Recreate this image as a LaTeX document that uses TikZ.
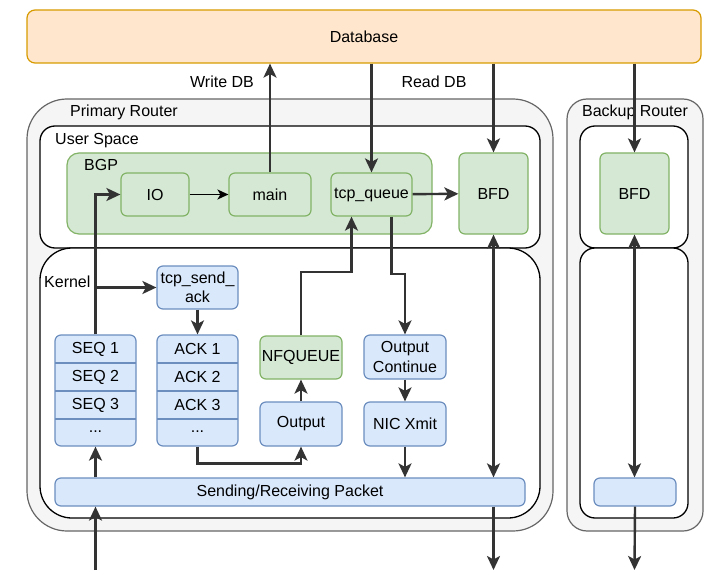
\documentclass[tikz,border=0pt]{standalone}
\usepackage{fontspec}
\setmainfont{Liberation Sans}
\usetikzlibrary{arrows.meta,shapes.geometric}

\definecolor{dbfill}{HTML}{FFE6CC}
\definecolor{dbline}{HTML}{D79B00}
\definecolor{grayfill}{HTML}{F5F5F5}
\definecolor{grayline}{HTML}{666666}
\definecolor{greenfill}{HTML}{D5E8D4}
\definecolor{greenline}{HTML}{82B366}
\definecolor{bluefill}{HTML}{DAE8FC}
\definecolor{blueline}{HTML}{6C8EBF}
\definecolor{arrowc}{HTML}{333333}

\begin{document}
\begin{tikzpicture}[x=1pt,y=-1pt,font=\fontsize{16}{19.5}\selectfont]
\tikzstyle{box} = [rectangle, inner sep=0pt, text centered, align=center]
\tikzstyle{dbbox} = [box, draw=dbline, fill=dbfill, line width=1.2pt, rounded corners=8pt]
\tikzstyle{router} = [box, draw=grayline, fill=grayfill, line width=1.2pt]
\tikzstyle{region} = [box, draw=black, fill=white, line width=1.3pt]
\tikzstyle{groupbox} = [box, draw=greenline, fill=greenfill, line width=1.2pt, rounded corners=12pt]
\tikzstyle{gblock} = [box, draw=greenline, fill=greenfill, line width=1.2pt, rounded corners=6pt]
\tikzstyle{bblock} = [box, draw=blueline, fill=bluefill, line width=1.2pt, rounded corners=6pt]
\tikzstyle{tag} = [inner sep=0pt, anchor=west]
\tikzstyle{line} = [draw=arrowc, line width=2.4pt, -{Stealth[length=14pt,width=13pt,inset=3.5pt]}]
\tikzstyle{dline} = [line, {Stealth[length=14pt,width=13pt,inset=3.5pt]}-{Stealth[length=14pt,width=13pt,inset=3.5pt]}]
\tikzstyle{thinline} = [draw=black, line width=1.6pt, -{Stealth[length=11pt,width=10pt,inset=3pt]}]

\useasboundingbox (0,0) rectangle (720,575);

% containers
\node [dbbox, minimum width=674pt, minimum height=53pt] (db) at (364,36.5) {Database};
\node [router, rounded corners=40pt, minimum width=526pt, minimum height=432pt] (primary) at (290,315) {};
\node [router, rounded corners=20pt, minimum width=136pt, minimum height=432pt] (backup) at (635,315) {};
\node [region, rounded corners=15pt, minimum width=500pt, minimum height=122pt] (user) at (290,187) {};
\node [region, rounded corners=32pt, minimum width=500pt, minimum height=270pt] (kernel) at (290,383) {};
\node [region, rounded corners=15pt, minimum width=108pt, minimum height=122pt] (bkuser) at (634,187) {};
\node [region, rounded corners=15pt, minimum width=108pt, minimum height=270pt] (bkkernel) at (634,383) {};
\node [groupbox, minimum width=365pt, minimum height=81pt] (bgp) at (249.5,193.5) {};

\node [tag] (primarylbl) at (70,112) {Primary Router};
\node [inner sep=0pt] (backuplbl) at (635,112) {Backup Router};
\node [tag] (userlbl) at (55,141) {User Space};
\node [tag] (bgplbl) at (84,165) {BGP};
\node [tag] (kernellbl) at (44,282) {Kernel};
\node [inner sep=0pt] (writelbl) at (222,82) {Write DB};
\node [inner sep=0pt] (readlbl) at (434,82) {Read DB};

% user space
\node [gblock, minimum width=68pt, minimum height=43pt] (io) at (155,194.5) {IO};
\node [gblock, minimum width=82pt, minimum height=43pt] (main) at (270,194.5) {main};
\node [gblock, minimum width=81pt, minimum height=43pt] (tcpq) at (371.5,194.5) {tcp\_queue};
\node [gblock, minimum width=69pt, minimum height=81pt] (bfd) at (493.5,193.5) {BFD};
\node [gblock, minimum width=69pt, minimum height=81pt] (bkbfd) at (634.5,193.5) {BFD};

% kernel
\node [bblock, minimum width=81pt, minimum height=43pt] (sendack) at (197.5,287.5) {tcp\_send\_\\ack};
\node [bblock, minimum width=81pt, minimum height=111pt] (seqbox) at (95.5,390.5) {};
\node [bblock, minimum width=81pt, minimum height=111pt] (ackbox) at (197.5,390.5) {};
\foreach \y in {363,391,419} {
  \draw [blueline, line width=1.2pt] (55,\y) -- (136,\y);
  \draw [blueline, line width=1.2pt] (157,\y) -- (238,\y);
}
\foreach \i/\y in {1/349,2/377,3/405} {
  \node (seq\i) at (95.5,\y) {SEQ \i};
  \node (ack\i) at (197.5,\y) {ACK \i};
}
\node (seqdots) at (95.5,432) {...};
\node (ackdots) at (197.5,432) {...};
\node [gblock, minimum width=82pt, minimum height=43pt] (nfq) at (301,357.5) {NFQUEUE};
\node [bblock, minimum width=82pt, minimum height=44pt] (output) at (301,424) {Output};
\node [bblock, minimum width=82pt, minimum height=44pt] (outcont) at (405,357) {Output\\Continue};
\node [bblock, minimum width=82pt, minimum height=44pt] (nicx) at (405,424) {NIC Xmit};
\node [bblock, minimum width=470pt, minimum height=28pt] (sendrecv) at (290,492) {Sending/Receiving Packet};
\node [bblock, minimum width=82pt, minimum height=28pt] (bkpkt) at (635,492) {};

\coordinate (pin) at (95.5,570);
\coordinate (pout) at (493.5,570);
\coordinate (bkout) at (634.5,570);

% connectors
\path [line] (main.north) -- (main.north |- db.south);
\path [line] (db.south -| tcpq.north) -- (tcpq.north);
\path [line] (db.south -| bfd.north) -- (bfd.north);
\path [line] (db.south -| bkbfd.north) -- (bkbfd.north);
\path [thinline] (io) -- (main);
\path [line] (tcpq) -- (bfd);
\path [line] (seqbox.north) |- (io.west);
\path [line] (seqbox.north |- sendack.west) -- (sendack.west);
\path [line] (sendack) -- (ackbox);
\path [line] (nfq.north) -- (nfq.north |- 0,272) -| ([xshift=-20pt]tcpq.south);
\path [line] ([xshift=20pt]tcpq.south) |- (outcont.north |- 0,274) -- (outcont.north);
\path [line] (output) -- (nfq);
\path [line] (outcont) -- (nicx);
\path [line] (ackbox.south) -- ++(0,17) -| (output.south);
\path [line] (nicx.south) -- (nicx.south |- sendrecv.north);
\path [dline] (bfd.south) -- (bfd.south |- sendrecv.north);
\path [line] (pout |- sendrecv.south) -- (pout);
\path [line] (pin) -- (pin |- sendrecv.south);
\path [line] (seqbox.south |- sendrecv.north) -- (seqbox.south);
\path [dline] (bkbfd.south) -- (bkbfd.south |- bkpkt.north);
\path [line] (bkpkt.south) -- (bkout);

\end{tikzpicture}
\end{document}
